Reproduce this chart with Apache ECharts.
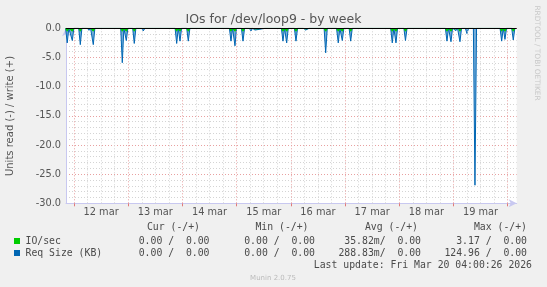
<!DOCTYPE html>
<html><head><meta charset="utf-8">
<script src="https://cdn.jsdelivr.net/npm/echarts@6/dist/echarts.min.js"></script>
<style>html,body{margin:0;padding:0;background:#f0f0f0}#c{width:547px;height:287px}</style>
</head><body><div id="c"></div>
<script>
// ---- data ----
const chartTitle = 'IOs for /dev/loop9 - by week';
const yAxisName = 'Units read (-) / write (+)';
const dayLabels = ['12 mar','13 mar','14 mar','15 mar','16 mar','17 mar','18 mar','19 mar'];
const dayNoonHours = [12,36,60,84,108,132,156,180];      // hours from 12 mar 00:00
const midnightHours = [0,24,48,72,96,120,144,168,192];
const yTicks = [0,-5,-10,-15,-20,-25,-30];
// spike times (hours from 12 mar 00:00) and read values
const spikeHours = [-3.0,-0.75,2.79,6.64,8.54,12.97,21.38,23.15,26.69,30.68,34.09,39.09,45.46,46.93,50.6,53.88,62.11,65.08,69.5,71.27,74.82,78.36,80.13,85.31,92.52,94.16,98.28,100.8,102.57,104.78,111.43,115.54,117.0,118.78,122.5,126.17,131.04,134.0,140.91,142.55,146.75,150.07,153.17,158.49,165.13,166.9,169.11,170.88,173.98,177.52,183.28,186.82,189.34,190.8,194.48];
const reqSizeRead = [-2.5,-2.1,-2.8,-0.35,-2.8,-0.3,-5.9,-2.1,-2.6,-0.45,-0.3,-0.3,-2.6,-2.2,-2.2,-0.2,-0.3,-0.3,-2.2,-3.0,-2.2,-0.45,-0.3,-0.3,-2.2,-2.5,-2.2,-0.3,-0.3,-0.3,-4.2,-0.3,-2.5,-2.1,-2.2,-0.3,-0.3,-0.3,-2.5,-2.5,-2.1,-0.3,-0.3,-0.3,-2.2,-2.3,-0.4,-2.3,-0.9,-26.9,-0.3,-0.3,-2.2,-1.9,-2.0];
const ioSecRead = [-0.5,-0.5,-0.5,-0.1,-0.5,-0.1,-0.5,-0.5,-0.5,-0.1,-0.1,-0.1,-0.5,-0.5,-0.5,-0.1,-0.1,-0.1,-0.5,-0.5,-0.5,-0.1,-0.1,-0.1,-0.5,-0.5,-0.5,-0.1,-0.1,-0.1,-0.5,-0.1,-0.5,-0.5,-0.5,-0.1,-0.1,-0.1,-0.5,-0.5,-0.5,-0.1,-0.1,-0.1,-0.5,-0.5,-0.1,-0.5,-0.2,-0.3,-0.1,-0.1,-0.5,-0.5,-0.5];
const seriesNames = ['IO/sec','Req Size (KB)'];
const seriesColors = ['#00cc00','#0066b3'];
const statHeaders = ['Cur (-/+)','Min (-/+)','Avg (-/+)','Max (-/+)'];
const ioSecStats = ['0.00 /  0.00','0.00 /  0.00','35.82m/  0.00','3.17 /  0.00'];
const reqSizeStats = ['0.00 /  0.00','0.00 /  0.00','288.83m/  0.00','124.96 /  0.00'];
const lastUpdate = 'Last update: Fri Mar 20 04:00:26 2026';
const footer = 'Munin 2.0.75';
const sideText = 'RRDTOOL / TOBI OETIKER';

// ---- build ----
function spikeData(hours, vals, hw){
  const pts=[];
  hours.forEach((h,i)=>{pts.push([h-hw,0],[h,vals[i]],[h+hw,0]);});
  pts.sort((a,b)=>a[0]-b[0]);
  return pts;
}
const minorV=[];
for(let h=6;h<196;h+=6){ if(h%24!==0) minorV.push(h); }

const chart = echarts.init(document.getElementById('c'), null, {renderer:'canvas'});
const mono = 'DejaVu Sans Mono';
const sans = 'DejaVu Sans';
const txtCol = '#4a4a4a';
const headX = [200,308.5,418,527];
const valX = [209.5,315,421,527];
const rowY = [227.5,241,253];
const graphics = [
  {type:'text', left:'center', top:13, style:{text:chartTitle, font:'12.5px '+sans, fill:'#555'}},
  {type:'text', x:10, y:116, rotation:Math.PI/2, style:{text:yAxisName, font:'10px '+sans, fill:'#555', align:'center', verticalAlign:'middle'}},
  {type:'text', x:537, y:53, rotation:-Math.PI/2, style:{text:sideText, font:'7.4px '+sans, fill:'#c8c8c8', align:'center', verticalAlign:'middle'}},
  {type:'text', x:532, y:265, style:{text:lastUpdate, font:'9.8px '+mono, fill:txtCol, align:'right', verticalAlign:'middle'}},
  {type:'text', x:273, y:278, style:{text:footer, font:'7px '+sans, fill:'#bbb', align:'center', verticalAlign:'middle'}}
];
statHeaders.forEach((t,i)=>graphics.push({type:'text', x:headX[i], y:rowY[0], style:{text:t, font:'9.8px '+mono, fill:txtCol, align:'right', verticalAlign:'middle'}}));
[ioSecStats, reqSizeStats].forEach((arr,r)=>{
  graphics.push({type:'rect', shape:{x:14, y:rowY[r+1]-3, width:6, height:6}, style:{fill:seriesColors[r]}});
  graphics.push({type:'text', x:25.5, y:rowY[r+1], style:{text:seriesNames[r], font:'9.8px '+mono, fill:txtCol, align:'left', verticalAlign:'middle'}});
  arr.forEach((t,i)=>graphics.push({type:'text', x:valX[i], y:rowY[r+1], style:{text:t, font:'9.8px '+mono, fill:txtCol, align:'right', verticalAlign:'middle'}}));
});

const option = {
  animation:false,
  backgroundColor:'#f0f0f0',
  textStyle:{fontFamily:sans},
  grid:{left:66, right:30.3, top:28.3, bottom:83.7, show:true, backgroundColor:'#ffffff', borderWidth:0, containLabel:false},
  xAxis:{type:'value', min:-3.54, max:196,
    axisLine:{onZero:false, lineStyle:{color:'#c8c8f0'}, symbol:['none','arrow'], symbolSize:[6,8]},
    axisTick:{show:true, customValues:midnightHours, length:3, lineStyle:{color:'#e07a7a'}},
    axisLabel:{customValues:dayNoonHours, formatter:v=>dayLabels[dayNoonHours.indexOf(v)], color:'#555', fontSize:9.8, margin:4, fontFamily:sans},
    splitLine:{show:false}},
  yAxis:{type:'value', min:-30, max:0, interval:5,
    axisLine:{show:true, onZero:false, lineStyle:{color:'#c8c8f0'}, symbol:['none','arrow'], symbolSize:[6,8]},
    axisTick:{show:false},
    axisLabel:{formatter:v=>v.toFixed(1), color:'#555', fontSize:9.8, margin:5, fontFamily:sans},
    splitLine:{lineStyle:{color:'#e8a0a0', type:[1,2]}},
    minorTick:{show:false, splitNumber:5},
    minorSplitLine:{show:true, lineStyle:{color:'#d4d4d4', type:[1,2]}}},
  series:[
    {type:'line', z:1, data:[[-3.5,0]], symbol:'none', lineStyle:{opacity:0}, silent:true,
      markLine:{silent:true, symbol:'none', label:{show:false}, animation:false,
        data:[...minorV.map(h=>({xAxis:h, lineStyle:{color:'#d4d4d4', type:[1,2], width:1}})),
              ...midnightHours.map(h=>({xAxis:h, lineStyle:{color:'#e8a0a0', type:[1,2], width:1}}))]}},
    {name:seriesNames[1], type:'line', z:3, data:spikeData(spikeHours, reqSizeRead, 0.7), symbol:'none',
      lineStyle:{color:seriesColors[1], width:1}, areaStyle:{color:'#5e9fd3', opacity:0.85}},
    {name:seriesNames[0], type:'line', z:4, data:spikeData(spikeHours, ioSecRead, 0.7), symbol:'none',
      lineStyle:{color:seriesColors[0], width:1}, areaStyle:{color:seriesColors[0], opacity:1}},
    {type:'line', z:6, data:[[-3.5,0]], symbol:'none', lineStyle:{opacity:0}, silent:true,
      markLine:{silent:true, symbol:'none', label:{show:false}, animation:false,
        data:[{yAxis:0, lineStyle:{color:'#000', type:'solid', width:1}}]}}
  ],
  graphic:graphics
};
chart.setOption(option);
</script>
</body></html>
